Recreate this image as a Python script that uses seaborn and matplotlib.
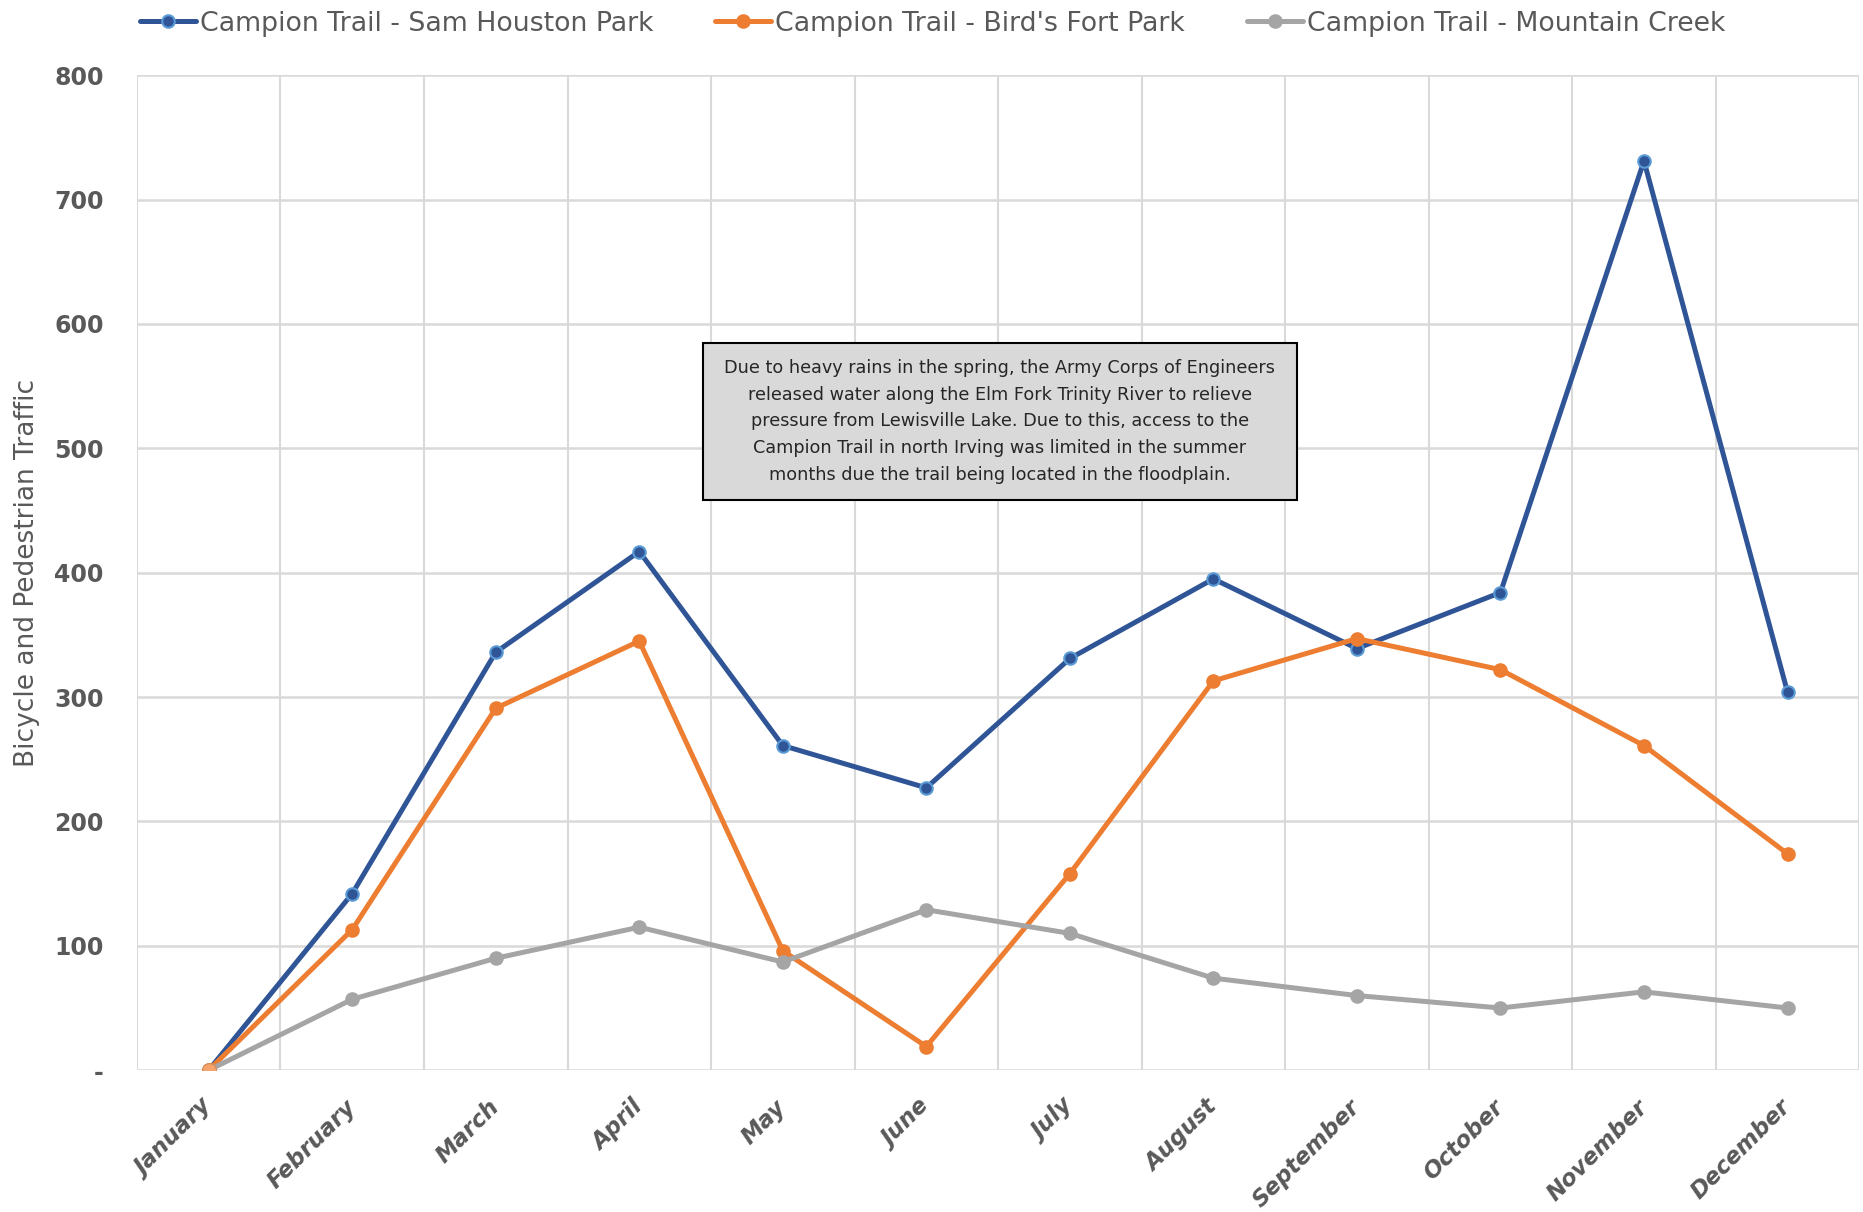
import numpy as np
import pandas as pd
import matplotlib
matplotlib.use("Agg")
import matplotlib.pyplot as plt
import seaborn as sns
from matplotlib.patches import Rectangle

# Data
months = ["January", "February", "March", "April", "May", "June",
          "July", "August", "September", "October", "November", "December"]
sam_houston = [0, 142, 336, 417, 261, 227, 331, 395, 339, 384, 731, 304]
birds_fort = [0, 113, 291, 345, 96, 19, 158, 313, 347, 322, 261, 174]
mountain_creek = [0, 57, 90, 115, 87, 129, 110, 74, 60, 50, 63, 50]

series_names = ["Campion Trail - Sam Houston Park",
                "Campion Trail - Bird's Fort Park",
                "Campion Trail - Mountain Creek"]
colors = ["#2F5597", "#ED7D31", "#A5A5A5"]
edge_colors = ["#5B9BD5", "#ED7D31", "#A5A5A5"]

note = ("Due to heavy rains in the spring, the Army Corps of Engineers\n"
        "released water along the Elm Fork Trinity River to relieve\n"
        "pressure from Lewisville Lake. Due to this, access to the\n"
        "Campion Trail in north Irving was limited in the summer\n"
        "months due the trail being located in the floodplain.")

sns.set_style("white")
plt.rcParams['font.family'] = ['DejaVu Sans']

fig = plt.figure(figsize=(18.63, 12.12), dpi=100)
ax = fig.add_axes([0.0735, 0.117, 0.9245, 0.821])

grid_col = "#D9D9D9"
text_col = "#595959"

for name, vals, c, ec in zip(series_names, [sam_houston, birds_fort, mountain_creek],
                             colors, edge_colors):
    df = pd.DataFrame({"Month": months, "Traffic": vals})
    sns.lineplot(data=df, x="Month", y="Traffic", ax=ax, sort=False,
                 color=c, linewidth=3.6, marker="o", markersize=9,
                 markerfacecolor=c, markeredgecolor=ec, markeredgewidth=1.5,
                 label=name, zorder=3)

# the January Bird's Fort point is shown in a lighter orange
ax.plot(months[:1], birds_fort[:1], "o", color="#F4A46C", markersize=10,
        markeredgecolor="#D98A50", markeredgewidth=0.8, zorder=4)

ax.set_xlim(-0.5, len(months) - 0.5)
ax.set_ylim(0, 800)
ax.set_yticks(np.arange(0, 801, 100))
ax.set_yticklabels(["-"] + [str(v) for v in range(100, 801, 100)])

# category boundaries as minor ticks with vertical grid
ax.set_xticks(np.arange(len(months)))
ax.set_xticks(np.arange(-0.5, len(months), 1), minor=True)
ax.set_xticklabels(months, rotation=45, ha="right", va="center",
                   rotation_mode="anchor", fontsize=16.5, fontweight="bold",
                   fontstyle="italic", color=text_col)
ax.tick_params(axis="x", which="major", length=0, pad=24)
ax.tick_params(axis="x", which="minor", length=7, width=1.5, color=grid_col)
ax.tick_params(axis="y", length=0, pad=24, labelsize=17, labelcolor=text_col)
for lab in ax.get_yticklabels():
    lab.set_fontweight("bold")

ax.grid(True, axis="y", color=grid_col, linewidth=1.8)
ax.grid(True, axis="x", which="minor", color=grid_col, linewidth=1.5)
ax.grid(False, axis="x", which="major")
for s in ax.spines.values():
    s.set_visible(False)

ax.set_xlabel("")
ax.set_ylabel("Bicycle and Pedestrian Traffic", fontsize=19, color=text_col)
ax.yaxis.set_label_coords(-0.056, 0.5)

# note box
ax.add_patch(Rectangle((0.3285, 0.573), 0.345, 0.158, transform=ax.transAxes,
                       facecolor="#D9D9D9", edgecolor="black", linewidth=1.5,
                       zorder=4))
ax.text(0.501, 0.652, note, transform=ax.transAxes, ha="center", va="center",
        fontsize=12.7, color="#262626", linespacing=1.62, zorder=5)

ax.legend_.remove()
handles, labels = ax.get_legend_handles_labels()
fig.legend(handles, labels, loc="upper left", bbox_to_anchor=(0.062, 1.011),
           ncol=3, frameon=False, fontsize=19.3, labelcolor=text_col,
           handlelength=2.1, handletextpad=0.15, columnspacing=2.3)

fig.savefig("out.png", dpi=100)
